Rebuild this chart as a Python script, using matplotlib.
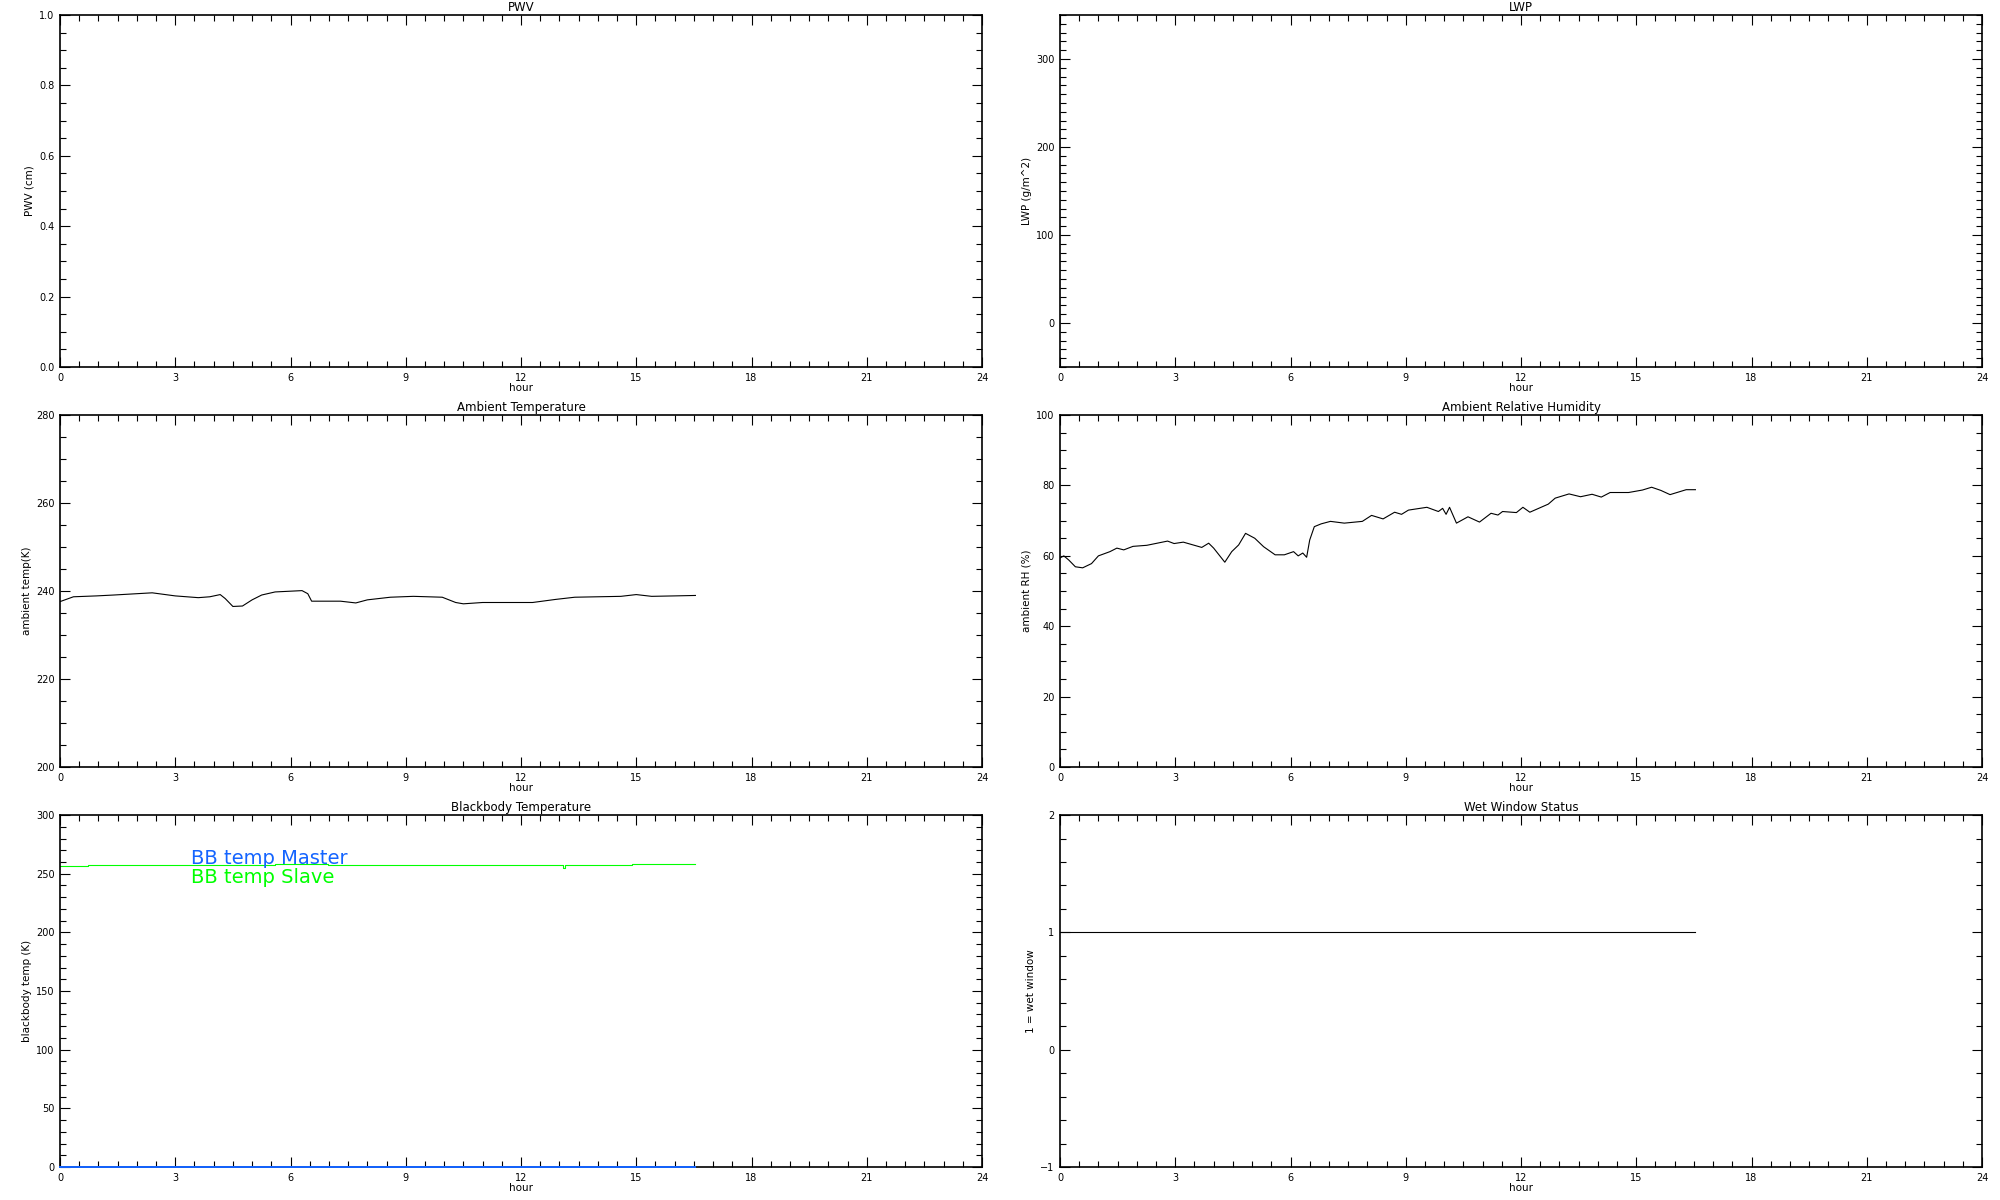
"""
Radiometer daily quicklook: PWV, LWP, ambient T/RH, blackbody temps, wet window.
"""

import matplotlib
matplotlib.use("Agg")
import matplotlib.pyplot as plt
from matplotlib.ticker import MultipleLocator, AutoMinorLocator

# ---------------------------------------------------------------------------
# Data
# ---------------------------------------------------------------------------

temp_hour = [0.0, 0.35, 0.95, 1.4, 2.4, 3.0, 3.6, 3.9, 4.17, 4.3, 4.5, 4.75,
             5.0, 5.25, 5.6, 6.3, 6.45, 6.55, 7.3, 7.7, 8.0, 8.6, 9.2, 9.95,
             10.3, 10.5, 11.0, 11.6, 12.3, 12.9, 13.4, 14.0, 14.6, 15.0,
             15.4, 16.0, 16.54]
temp_k = [237.6, 238.7, 238.9, 239.1, 239.6, 238.9, 238.5, 238.7, 239.2,
          238.3, 236.5, 236.6, 238.0, 239.1, 239.8, 240.1, 239.4, 237.7,
          237.7, 237.3, 238.0, 238.6, 238.8, 238.6, 237.4, 237.1, 237.4,
          237.4, 237.4, 238.1, 238.6, 238.7, 238.8, 239.2, 238.8, 238.9, 239.0]

rh_hour = [0.0, 0.1, 0.23, 0.4, 0.59, 0.82, 1.0, 1.3, 1.48, 1.66, 1.9, 2.26,
           2.8, 2.97, 3.21, 3.69, 3.87, 4.0, 4.29, 4.47, 4.65, 4.83, 5.07,
           5.3, 5.6, 5.84, 6.08, 6.2, 6.32, 6.42, 6.5, 6.62, 6.8, 7.04, 7.4,
           7.87, 8.11, 8.41, 8.71, 8.89, 9.07, 9.55, 9.85, 9.96, 10.05, 10.14,
           10.32, 10.62, 10.92, 11.22, 11.4, 11.52, 11.88, 12.05, 12.23,
           12.71, 12.89, 13.25, 13.55, 13.85, 14.09, 14.32, 14.8, 15.16,
           15.4, 15.64, 15.88, 16.12, 16.3, 16.54]
rh_pct = [59.4, 60.0, 58.8, 56.9, 56.6, 57.8, 60.0, 61.2, 62.2, 61.7, 62.7,
          63.0, 64.2, 63.5, 63.9, 62.4, 63.6, 62.2, 58.2, 61.2, 63.1, 66.4,
          65.0, 62.6, 60.3, 60.3, 61.2, 60.0, 60.8, 59.6, 64.5, 68.3, 69.1,
          69.8, 69.3, 69.8, 71.5, 70.5, 72.4, 71.8, 73.0, 73.8, 72.6, 73.5,
          71.8, 73.8, 69.3, 71.1, 69.6, 72.1, 71.6, 72.6, 72.3, 73.8, 72.4,
          74.7, 76.4, 77.6, 76.8, 77.5, 76.7, 78.0, 78.0, 78.7, 79.5, 78.6,
          77.4, 78.2, 78.8, 78.8]

bb_slave_hour = [0.0, 0.74, 5.6, 6.97, 13.1, 13.15, 14.9, 16.54]
bb_slave_k = [256.3, 257.1, 258.0, 257.1, 254.6, 257.1, 258.0, 258.0]
bb_master_hour = [0.0, 16.54]
bb_master_k = [0.0, 0.0]

wet_hour = [0.0, 16.54]
wet_flag = [1, 1]

BLUE = "#1464ff"
GREEN = "#00ff00"


def style_axes(ax, title, ylabel, ylim, ymajor, yminor_n):
    ax.set_xlim(0, 24)
    ax.set_ylim(*ylim)
    ax.xaxis.set_major_locator(MultipleLocator(3))
    ax.xaxis.set_minor_locator(AutoMinorLocator(6))
    ax.yaxis.set_major_locator(MultipleLocator(ymajor))
    ax.yaxis.set_minor_locator(AutoMinorLocator(yminor_n))
    ax.tick_params(which="both", direction="in", top=True, right=True,
                   labelsize=7, width=0.8)
    ax.tick_params(which="major", length=7, pad=4)
    ax.tick_params(which="minor", length=4)
    for s in ax.spines.values():
        s.set_linewidth(1.2)
    ax.set_title(title, fontsize=8.5, pad=3)
    ax.set_xlabel("hour", fontsize=7.5, labelpad=0)
    ax.set_ylabel(ylabel, fontsize=7.5, labelpad=3)


fig = plt.figure(figsize=(20, 12), dpi=100)

W = 0.461
H = 0.2933
col_x = [0.03, 0.53]
row_y = [0.6942, 0.3608, 0.0275]

ax_pwv = fig.add_axes([col_x[0], row_y[0], W, H])
ax_lwp = fig.add_axes([col_x[1], row_y[0], W, H])
ax_t = fig.add_axes([col_x[0], row_y[1], W, H])
ax_rh = fig.add_axes([col_x[1], row_y[1], W, H])
ax_bb = fig.add_axes([col_x[0], row_y[2], W, H])
ax_wet = fig.add_axes([col_x[1], row_y[2], W, H])

style_axes(ax_pwv, "PWV", "PWV (cm)", (0, 1), 0.2, 4)
ax_pwv.yaxis.set_major_formatter(plt.FormatStrFormatter("%.1f"))
style_axes(ax_lwp, "LWP", "LWP (g/m^2)", (-50, 350), 100, 10)

style_axes(ax_t, "Ambient Temperature", "ambient temp(K)", (200, 280), 20, 4)
ax_t.plot(temp_hour, temp_k, color="black", lw=0.8)

style_axes(ax_rh, "Ambient Relative Humidity", "ambient RH (%)", (0, 100), 20, 4)
ax_rh.plot(rh_hour, rh_pct, color="black", lw=0.8)

style_axes(ax_bb, "Blackbody Temperature", "blackbody temp (K)", (0, 300), 50, 5)
ax_bb.plot(bb_master_hour, bb_master_k, color=BLUE, lw=1.4, clip_on=False, zorder=3)
ax_bb.plot(bb_slave_hour, bb_slave_k, color=GREEN, lw=0.8, drawstyle="steps-post")
ax_bb.text(3.41, 258.2, "BB temp Master", color=BLUE, fontsize=14, va="baseline")
ax_bb.text(3.41, 242.3, "BB temp Slave", color=GREEN, fontsize=14, va="baseline")

style_axes(ax_wet, "Wet Window Status", "1 = wet window", (-1, 2), 1, 5)
ax_wet.plot(wet_hour, wet_flag, color="black", lw=0.8)

fig.savefig("out.png", dpi=100, facecolor="white")
